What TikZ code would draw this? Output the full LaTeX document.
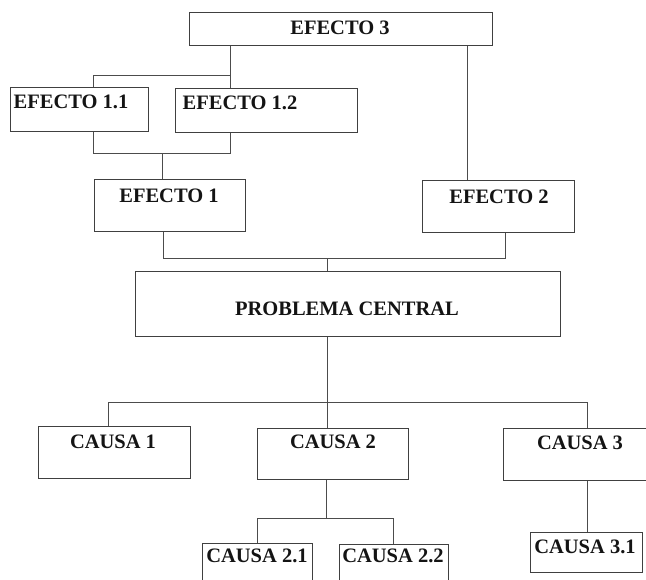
\documentclass[tikz,border=0pt]{standalone}
\usepackage{fontspec}
\setmainfont{Liberation Serif}
\begin{document}
\begin{tikzpicture}[x=1pt,y=1pt,
  boxst/.style={draw=black!75, line width=1pt, rectangle, inner sep=0pt, fill=white},
  txt/.style={font=\fontsize{20.5}{22}\selectfont\bfseries, text=black!92, inner sep=0pt},
  conn/.style={draw=black!70, line width=1pt}]
\fill[white] (0,0) rectangle (646,-580);
\clip (0,0) rectangle (646,-580);
% boxes
\node[boxst, minimum width=303pt, minimum height=33pt] (e3) at (340.5,-29.5) {};
\node[boxst, minimum width=138pt, minimum height=44pt] (e11) at (79,-110) {};
\node[boxst, minimum width=182pt, minimum height=44pt] (e12) at (266,-111) {};
\node[boxst, minimum width=151pt, minimum height=52pt] (e1) at (169.5,-206) {};
\node[boxst, minimum width=152pt, minimum height=52pt] (e2) at (498,-207) {};
\node[boxst, minimum width=425pt, minimum height=65pt] (pc) at (347.5,-304.5) {};
\node[boxst, minimum width=152pt, minimum height=52pt] (c1) at (114,-452) {};
\node[boxst, minimum width=151pt, minimum height=51pt] (c2) at (332.5,-453.5) {};
\node[boxst, minimum width=147pt, minimum height=52pt] (c3) at (576.5,-454) {};
\node[boxst, minimum width=110pt, minimum height=50pt] (c21) at (257,-568) {};
\node[boxst, minimum width=109pt, minimum height=50pt] (c22) at (393.5,-569) {};
\node[boxst, minimum width=112pt, minimum height=40pt] (c31) at (586,-552) {};
% texts
\node[txt] (e3t) at (340,-28) {EFECTO 3};
\node[txt] (e11t) at (71,-102) {EFECTO 1.1};
\node[txt] (e12t) at (240,-103) {EFECTO 1.2};
\node[txt] (e1t) at (169,-196) {EFECTO 1};
\node[txt] (e2t) at (499,-197) {EFECTO 2};
\node[txt] (pct) at (347,-309) {PROBLEMA CENTRAL};
\node[txt] (c1t) at (113,-442) {CAUSA 1};
\node[txt] (c2t) at (333,-442) {CAUSA 2};
\node[txt] (c3t) at (580,-443) {CAUSA 3};
\node[txt] (c21t) at (257,-556) {CAUSA 2.1};
\node[txt] (c22t) at (393,-556) {CAUSA 2.2};
\node[txt] (c31t) at (585,-547) {CAUSA 3.1};
% junctions
\coordinate (j1) at (230,-76);
\coordinate (j2) at (93,-76);
\coordinate (j3) at (93,-154);
\coordinate (j4) at (230,-154);
\coordinate (j5) at (162,-154);
\coordinate (k1) at (467,-100);
\coordinate (j6) at (163,-259);
\coordinate (j7) at (505,-259);
\coordinate (j8) at (327,-259);
\coordinate (j9) at (327,-402);
\coordinate (j10) at (108,-402);
\coordinate (j11) at (587,-402);
\coordinate (j12) at (326,-518);
\coordinate (j13) at (257,-518);
\coordinate (j14) at (393,-518);
% connectors
\draw[conn] (e3.south -| j1) -- (j1);
\draw[conn] (e11.north -| j2) -- (j2) -- (j1) -- (e12.north -| j1);
\draw[conn] (e11.south -| j3) -- (j3) -- (j4) -- (e12.south -| j4);
\draw[conn] (j5) -- (e1.north -| j5);
\draw[conn] (e3.south -| k1) -- (e2.north -| k1);
\draw[conn] (e1.south -| j6) -- (j6) -- (j7) -- (e2.south -| j7);
\draw[conn] (j8) -- (pc.north -| j8);
\draw[conn] (pc.south -| j9) -- (j9);
\draw[conn] (c1.north -| j10) -- (j10) -- (j11) -- (c3.north -| j11);
\draw[conn] (j9) -- (c2.north -| j9);
\draw[conn] (c2.south -| j12) -- (j12);
\draw[conn] (c21.north -| j13) -- (j13) -- (j14) -- (c22.north -| j14);
\draw[conn] (c3.south -| j11) -- (c31.north -| j11);
\end{tikzpicture}
\end{document}
